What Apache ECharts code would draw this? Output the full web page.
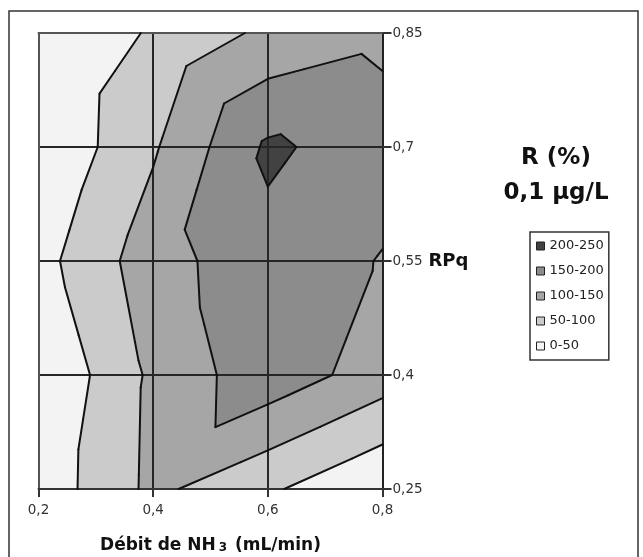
<!DOCTYPE html>
<html>
<head>
<meta charset="utf-8">
<script src="https://cdn.jsdelivr.net/npm/echarts@6.0.0/dist/echarts.min.js"></script>
<style>
html,body{margin:0;padding:0;background:#fff;}
#chart{width:643px;height:557px;}
</style>
</head>
<body>
<div id="chart"></div>
<script>
// ---- data (R %, 0,1 µg/L) ----
const xValues = [0.2, 0.4, 0.6, 0.8];            // Débit de NH3 (mL/min)
const yValues = [0.25, 0.40, 0.55, 0.70, 0.85];  // RPq
// R (%) for each RPq row, in the order of xValues
const rAt025 = [18, 112, 58, 2];
const rAt040 = [1, 110, 182, 125];
const rAt055 = [32, 128, 185, 147];
const rAt070 = [3, 94, 208, 176];
const rAt085 = [0, 56, 111, 137];
const bandNames = ['0-50', '50-100', '100-150', '150-200', '200-250'];
const bandLevels = [0, 50, 100, 150, 200];
const contourLevels = [50, 100, 150, 200];
const bandColors = ['#f3f3f3', '#cbcbcb', '#a6a6a6', '#8c8c8c', '#424242'];
const legendOrder = ['200-250', '150-200', '100-150', '50-100', '0-50'];

const FONT = 'DejaVu Sans';
const rows = [rAt025, rAt040, rAt055, rAt070, rAt085];

// cells of the surface grid (bottom-left corner + indices)
const cells = [];
for (let i = 0; i < xValues.length - 1; i++) {
  for (let j = 0; j < yValues.length - 1; j++) {
    cells.push([xValues[i], yValues[j], i, j]);
  }
}

// each cell split in 4 triangles around its centre (surface-chart contouring)
function cellTriangles(i, j) {
  const P = (a, b) => [xValues[a], yValues[b], rows[b][a]];
  const bl = P(i, j), br = P(i + 1, j), tr = P(i + 1, j + 1), tl = P(i, j + 1);
  const cv = Math.max((bl[2] + tr[2]) / 2, (tl[2] + br[2]) / 2);
  const c = [(bl[0] + br[0]) / 2, (bl[1] + tl[1]) / 2, cv];
  return [[c, bl, br], [c, br, tr], [c, tr, tl], [c, tl, bl]];
}
function clipAbove(poly, level) {
  const out = [];
  for (let k = 0; k < poly.length; k++) {
    const a = poly[k], b = poly[(k + 1) % poly.length];
    const ain = a[2] >= level, bin = b[2] >= level;
    if (ain) out.push(a);
    if (ain !== bin) {
      const t = (level - a[2]) / (b[2] - a[2]);
      out.push([a[0] + t * (b[0] - a[0]), a[1] + t * (b[1] - a[1]), level]);
    }
  }
  return out;
}
function isoSegment(tri, level) {
  const pts = [];
  for (let k = 0; k < 3; k++) {
    const a = tri[k], b = tri[(k + 1) % 3];
    if ((a[2] >= level) !== (b[2] >= level)) {
      const t = (level - a[2]) / (b[2] - a[2]);
      pts.push([a[0] + t * (b[0] - a[0]), a[1] + t * (b[1] - a[1])]);
    }
  }
  return pts.length === 2 ? pts : null;
}
const fmt = v => String(Math.round(v * 100) / 100).replace('.', ',');

const bandSeries = bandNames.map((name, k) => ({
  type: 'custom',
  name: name,
  coordinateSystem: 'cartesian2d',
  silent: true,
  z: 2 + k,
  itemStyle: { color: bandColors[k] },
  encode: { x: 0, y: 1 },
  data: cells,
  renderItem: function (params, api) {
    const i = api.value(2), j = api.value(3);
    const children = [];
    cellTriangles(i, j).forEach(tri => {
      const poly = clipAbove(tri, bandLevels[k]);
      if (poly.length >= 3) {
        children.push({
          type: 'polygon',
          shape: { points: poly.map(p => api.coord([p[0], p[1]])) },
          style: { fill: bandColors[k], stroke: bandColors[k], lineWidth: 0.8 }
        });
      }
    });
    return { type: 'group', children: children };
  }
}));

const contourSeries = {
  type: 'custom',
  name: 'contours',
  coordinateSystem: 'cartesian2d',
  silent: true,
  z: 9,
  encode: { x: 0, y: 1 },
  data: cells,
  renderItem: function (params, api) {
    const i = api.value(2), j = api.value(3);
    const children = [];
    cellTriangles(i, j).forEach(tri => {
      contourLevels.forEach(L => {
        const seg = isoSegment(tri, L);
        if (seg) {
          const p1 = api.coord(seg[0]), p2 = api.coord(seg[1]);
          children.push({
            type: 'line',
            shape: { x1: p1[0], y1: p1[1], x2: p2[0], y2: p2[1] },
            style: { stroke: '#111', lineWidth: 2, lineCap: 'round' }
          });
        }
      });
    });
    return { type: 'group', children: children };
  }
};

const chart = echarts.init(document.getElementById('chart'), null, { renderer: 'canvas' });
chart.setOption({
  animation: false,
  backgroundColor: '#ffffff',
  textStyle: { fontFamily: FONT },
  title: [
    { text: 'R (%)', left: 556, top: 147, textAlign: 'center', padding: 0,
      textStyle: { fontSize: 23, fontWeight: 'bold', color: '#111', fontFamily: FONT } },
    { text: '0,1 µg/L', left: 556, top: 182, textAlign: 'center', padding: 0,
      textStyle: { fontSize: 23, fontWeight: 'bold', color: '#111', fontFamily: FONT } }
  ],
  legend: {
    orient: 'vertical',
    left: 530, top: 232,
    data: legendOrder,
    icon: 'rect',
    itemWidth: 8, itemHeight: 8, itemGap: 11,
    padding: [7, 5, 7, 6],
    borderColor: '#333', borderWidth: 1.5,
    selectedMode: false,
    itemStyle: { borderColor: '#222', borderWidth: 1 },
    textStyle: { fontSize: 13, color: '#222', fontFamily: FONT, lineHeight: 14 }
  },
  graphic: [{
    type: 'rect', silent: true, z: -10,
    shape: { x: 9, y: 11, width: 629, height: 560 },
    style: { fill: 'none', stroke: '#333', lineWidth: 1.5 }
  }],
  grid: { left: 38.5, top: 33, right: 260.5, bottom: 68, containLabel: false, outerBoundsMode: 'none' },
  xAxis: [{
    type: 'value', min: 0.2, max: 0.8, interval: 0.2, position: 'bottom', z: 8,
    axisLine: { show: true, onZero: false, lineStyle: { color: '#333', width: 2 } },
    axisTick: { show: true, inside: false, length: 8, lineStyle: { color: '#333', width: 2 } },
    axisLabel: { margin: 14, fontSize: 13.5, color: '#333', fontFamily: FONT, formatter: fmt },
    splitLine: { show: true, showMinLine: false, showMaxLine: false, lineStyle: { color: '#262626', width: 2 } },
    name: 'Débit de NH{s|3} (mL/min)',
    nameLocation: 'middle', nameGap: 48,
    nameTextStyle: {
      fontSize: 17, fontWeight: 'bold', color: '#111', fontFamily: FONT, verticalAlign: 'top',
      rich: { s: { fontSize: 12, fontWeight: 'bold', color: '#111', fontFamily: FONT, verticalAlign: 'bottom', padding: [0, 2, 0, 3] } }
    }
  }, {
    type: 'value', min: 0.2, max: 0.8, position: 'top', z: 8,
    axisLine: { show: true, onZero: false, lineStyle: { color: '#555', width: 2 } },
    axisTick: { show: false }, axisLabel: { show: false }, splitLine: { show: false }
  }],
  yAxis: [{
    type: 'value', min: 0.25, max: 0.85, interval: 0.15, position: 'right', z: 8,
    axisLine: { show: true, onZero: false, lineStyle: { color: '#222', width: 2 } },
    axisTick: { show: true, inside: false, length: 9, lineStyle: { color: '#333', width: 2 } },
    axisLabel: { margin: 10, fontSize: 13.5, color: '#333', fontFamily: FONT, formatter: fmt },
    splitLine: { show: true, showMinLine: false, showMaxLine: false, lineStyle: { color: '#262626', width: 2 } },
    name: 'RPq', nameLocation: 'middle', nameRotate: 0, nameGap: 46,
    nameTextStyle: { fontSize: 18, fontWeight: 'bold', color: '#111', fontFamily: FONT, align: 'left', verticalAlign: 'middle' }
  }, {
    type: 'value', min: 0.25, max: 0.85, position: 'left', z: 8,
    axisLine: { show: true, onZero: false, lineStyle: { color: '#555', width: 2 } },
    axisTick: { show: false }, axisLabel: { show: false }, splitLine: { show: false }
  }],
  series: bandSeries.concat([contourSeries])
});
</script>
</body>
</html>
